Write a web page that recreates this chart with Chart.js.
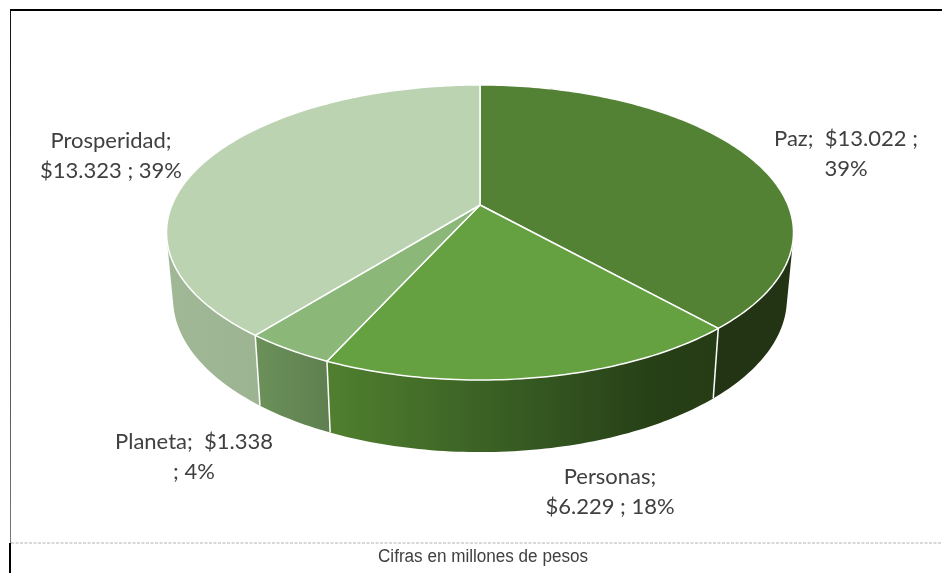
<!DOCTYPE html>
<html lang="es">
<head>
<meta charset="utf-8">
<title>Cifras en millones de pesos</title>
<style>
html,body{margin:0;padding:0;background:#fff;overflow:hidden}
canvas{display:block}
</style>
<script src="https://cdn.jsdelivr.net/npm/chart.js@4/dist/chart.umd.min.js"></script>
</head>
<body>
<canvas id="c" width="942" height="573" style="width:942px;height:573px"></canvas>
<script>
const categories = ['Paz', 'Personas', 'Planeta', 'Prosperidad'];
const values = [13022, 6229, 1338, 13323];
const valueLabels = ['$13.022', '$6.229', '$1.338', '$13.323'];
const percentLabels = ['39%', '18%', '4%', '39%'];
const caption = 'Cifras en millones de pesos';

const topColors = ['#548235', '#65A140', '#8BB878', '#BCD3B2'];
const wallStops = [
  [[0, '#223413'], [1, '#223413']],
  [[0, '#50802f'], [0.5, '#365a22'], [0.85, '#263f16'], [1, '#263c15']],
  [[0, '#6b9159'], [1, '#5f7f50']],
  [[0, '#a0b896'], [1, '#96aa8b']]
];

/* one-point perspective of the pie disc */
const view = {cx: 480, cy: 205, a: 308, b: 142.4, k: 0.1864, shrink: 0.979, depth: 70, depthGrow: 0.04, depthRef: 328};
function rim(theta) {
  const u = Math.sin(theta), v = -Math.cos(theta), w = 1 - view.k * v;
  return {x: view.cx + view.a * u / w, y: view.cy + view.b * v / w};
}
function base(theta) {
  const p = rim(theta);
  return {
    x: view.cx + (p.x - view.cx) * view.shrink,
    y: p.y + view.depth + (p.y - view.depthRef) * view.depthGrow
  };
}
function arcPoints(s, e, fn) {
  const n = Math.max(2, Math.ceil((e - s) / (Math.PI / 180)));
  const pts = [];
  for (let i = 0; i <= n; i++) pts.push(fn(s + (e - s) * i / n));
  return pts;
}

const labelBoxes = [
  {lines: i => [categories[i] + ';  ' + valueLabels[i] + ' ;', percentLabels[i]], x: 846, y: 139},
  {lines: i => [categories[i] + ';', valueLabels[i] + ' ; ' + percentLabels[i]], x: 610, y: 477},
  {lines: i => [categories[i] + ';  ' + valueLabels[i], '; ' + percentLabels[i]], x: 194, y: 442},
  {lines: i => [categories[i] + ';', valueLabels[i] + ' ; ' + percentLabels[i]], x: 111, y: 141}
];

const pie3d = {
  id: 'pie3d',
  beforeDatasetDraw(chart) {
    const ctx = chart.ctx;
    const arcs = chart.getDatasetMeta(0).data;
    const ang = arcs.map(a => {
      const p = a.getProps(['startAngle', 'endAngle'], true);
      return [p.startAngle + Math.PI / 2, p.endAngle + Math.PI / 2];
    });
    ctx.save();
    ctx.lineJoin = 'round';

    /* side walls: one path of small quads, all wound the same way */
    ang.forEach(([s, e], i) => {
      const top = arcPoints(s, e, rim), bot = arcPoints(s, e, base);
      const xs = top.concat(bot).map(p => p.x);
      const g = ctx.createLinearGradient(Math.min(...xs), 0, Math.max(...xs), 0);
      wallStops[i].forEach(st => g.addColorStop(st[0], st[1]));
      ctx.beginPath();
      for (let j = 0; j < top.length - 1; j++) {
        let q = [top[j], top[j + 1], bot[j + 1], bot[j]];
        let area = 0;
        q.forEach((p, m) => { const n = q[(m + 1) % 4]; area += p.x * n.y - n.x * p.y; });
        if (area < 0) q = q.reverse();
        ctx.moveTo(q[0].x, q[0].y);
        ctx.lineTo(q[1].x, q[1].y);
        ctx.lineTo(q[2].x, q[2].y);
        ctx.lineTo(q[3].x, q[3].y);
        ctx.closePath();
      }
      ctx.fillStyle = g;
      ctx.fill();
    });
    /* wall separators */
    ang.forEach(([s]) => {
      if (-Math.cos(s) <= 0) return;
      const a = rim(s), b = base(s);
      ctx.beginPath();
      ctx.moveTo(a.x, a.y);
      ctx.lineTo(b.x, b.y);
      ctx.strokeStyle = '#fff';
      ctx.lineWidth = 1.5;
      ctx.stroke();
    });
    /* top faces */
    ang.forEach(([s, e], i) => {
      ctx.beginPath();
      ctx.moveTo(view.cx, view.cy);
      arcPoints(s, e, rim).forEach(p => ctx.lineTo(p.x, p.y));
      ctx.closePath();
      ctx.fillStyle = topColors[i];
      ctx.fill();
      ctx.strokeStyle = '#fff';
      ctx.lineWidth = 1.5;
      ctx.stroke();
    });
    ctx.restore();
    return false;
  },
  afterDraw(chart) {
    const ctx = chart.ctx;
    ctx.save();
    /* frame */
    ctx.fillStyle = '#000';
    ctx.fillRect(10, 9, 932, 2);
    const side = ctx.createLinearGradient(0, 10, 0, 543);
    side.addColorStop(0, '#111');
    side.addColorStop(1, '#777');
    ctx.fillStyle = side;
    ctx.fillRect(10, 10, 1, 533);
    ctx.fillStyle = '#000';
    ctx.fillRect(9, 543, 2, 30);
    ctx.strokeStyle = '#cccccc';
    ctx.setLineDash([3, 1.5]);
    ctx.lineWidth = 1.5;
    ctx.beginPath();
    ctx.moveTo(11, 543);
    ctx.lineTo(942, 543);
    ctx.stroke();
    ctx.setLineDash([]);

    /* data labels */
    ctx.fillStyle = '#404040';
    ctx.textAlign = 'center';
    ctx.textBaseline = 'middle';
    ctx.font = '22px Lato';
    labelBoxes.forEach((b, i) => {
      b.lines(i).forEach((t, j) => ctx.fillText(t, b.x, b.y + j * 30));
    });

    /* caption */
    ctx.fillStyle = '#404040';
    ctx.font = '18px "Liberation Sans"';
    ctx.fillText(caption, 483, 557, 210);
    ctx.restore();
  }
};

new Chart(document.getElementById('c'), {
  type: 'pie',
  data: {labels: categories, datasets: [{data: values, backgroundColor: topColors}]},
  options: {
    responsive: false,
    animation: false,
    rotation: 0,
    plugins: {legend: {display: false}, tooltip: {enabled: false}, title: {display: false}}
  },
  plugins: [pie3d]
});
</script>
</body>
</html>
